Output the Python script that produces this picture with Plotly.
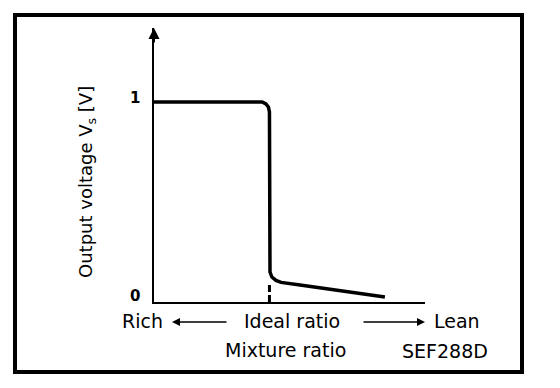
import plotly.graph_objects as go

# ---- data ----
mixture_x = [0.0, 3.99, 4.13, 4.22, 4.26, 4.26, 4.28, 4.35, 4.50, 4.69, 5.02, 5.39, 8.52]
voltage = [1.0, 1.0, 0.99, 0.975, 0.95, 0.20, 0.15, 0.125, 0.108, 0.098, 0.093, 0.085, 0.025]
ideal_x = [4.26, 4.26]
ideal_v = [0.0, 0.10]
y_tick_vals = [0, 1]
y_tick_text = ["0", "1"]

W, H = 560, 388
PL, PR, PT, PB = 154, 425, 28, 302  # plot area in pixels
X_RANGE = [0, 10]
Y_RANGE = [0, (PB - PT) / 200.0]


def px(x):
    return (x - PL) / (PR - PL)


def py(y):
    return (PB - y) / (PB - PT)


FONT = "DejaVu Sans, Liberation Sans, Arial"

fig = go.Figure()
fig.add_trace(go.Scatter(x=mixture_x, y=voltage, mode="lines",
                         line=dict(color="black", width=3.5),
                         hoverinfo="skip", showlegend=False))
fig.add_trace(go.Scatter(x=ideal_x, y=ideal_v, mode="lines",
                         line=dict(color="black", width=3, dash="7px,3px"),
                         hoverinfo="skip", showlegend=False))

ann = []
# y tick labels
for v, t in zip(y_tick_vals, y_tick_text):
    ann.append(dict(x=px(135), xref="paper", y=v, yref="y", yshift=6 if v == 0 else 4,
                    text="<b>" + t + "</b>", showarrow=False,
                    font=dict(family=FONT, size=15, color="black"),
                    xanchor="center", yanchor="middle"))
# y axis arrow
ann.append(dict(x=0, y=Y_RANGE[1], xref="x", yref="y", ax=0, ay=16, text="",
                showarrow=True, arrowhead=2, arrowsize=1.1, arrowwidth=2, arrowcolor="black"))
# y title
ann.append(dict(x=px(87), y=py(182), xref="paper", yref="paper",
                text="Output voltage V<sub>s</sub> [V]", textangle=-90, showarrow=False,
                font=dict(family=FONT, size=18, color="black"), xanchor="center", yanchor="middle"))
# bottom row labels
for txt, cx, cy in [("Rich", 142.5, 321), ("Ideal ratio", 292, 321), ("Lean", 456.5, 321),
                    ("Mixture ratio", 285, 350), ("SEF288D", 445, 351)]:
    ann.append(dict(x=px(cx), y=py(cy), xref="paper", yref="paper", text=txt, showarrow=False,
                    font=dict(family=FONT, size=19, color="black"),
                    xanchor="center", yanchor="middle"))
# direction arrows
ann.append(dict(x=px(172), y=py(322), xref="paper", yref="paper", ax=56, ay=0, text="",
                showarrow=True, arrowhead=2, arrowsize=1, arrowwidth=1.6, arrowcolor="black"))
ann.append(dict(x=px(425), y=py(322), xref="paper", yref="paper", ax=-63, ay=0, text="",
                showarrow=True, arrowhead=2, arrowsize=1, arrowwidth=1.6, arrowcolor="black"))

shapes = [dict(type="rect", xref="paper", yref="paper",
               x0=px(15), x1=px(522), y0=py(372), y1=py(15),
               line=dict(color="black", width=4))]

fig.update_layout(
    width=W, height=H,
    margin=dict(l=PL, r=W - PR, t=PT, b=H - PB, pad=0),
    paper_bgcolor="white", plot_bgcolor="white",
    xaxis=dict(range=X_RANGE, showgrid=False, zeroline=False, showticklabels=False,
               ticks="", showline=True, linecolor="black", linewidth=2, fixedrange=True),
    yaxis=dict(range=Y_RANGE, showgrid=False, zeroline=False, showticklabels=False,
               ticks="", showline=True, linecolor="black", linewidth=2, fixedrange=True),
    annotations=ann, shapes=shapes, showlegend=False,
)

fig.write_html("out.html", config={"displayModeBar": False, "staticPlot": True},
               post_script="document.body.style.margin='0';")
